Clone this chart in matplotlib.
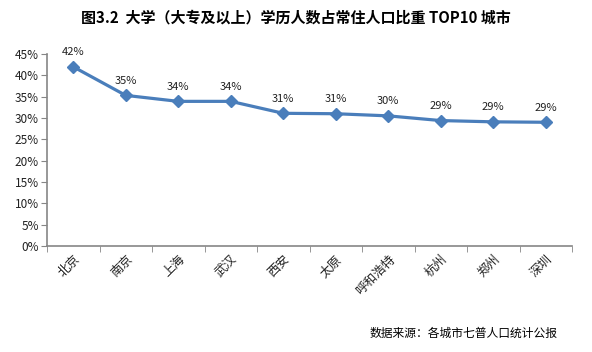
import numpy as np
import matplotlib.pyplot as plt
from matplotlib.ticker import FixedLocator, PercentFormatter

plt.rcParams['font.family'] = ['Noto Sans CJK SC', 'DejaVu Sans']

cities = ["北京", "南京", "上海", "武汉", "西安", "太原", "呼和浩特", "杭州", "郑州", "深圳"]
shares = [42.0, 35.3, 33.9, 33.9, 31.1, 31.0, 30.5, 29.4, 29.1, 29.0]
labels = ["42%", "35%", "34%", "34%", "31%", "31%", "30%", "29%", "29%", "29%"]

title = "图3.2  大学（大专及以上）学历人数占常住人口比重 TOP10 城市"
source = "数据来源：各城市七普人口统计公报"

line_color = "#4a7ebb"
axis_color = "#868686"

fig = plt.figure(figsize=(5.92, 3.52), dpi=100)
ax = fig.add_axes([47 / 592, 1 - 246 / 352, 525 / 592, 192 / 352])

x = np.arange(len(cities))
ax.plot(x, shares, color=line_color, lw=2.3, marker="D", ms=6.5,
        markerfacecolor=line_color, markeredgecolor=line_color, zorder=3)

for xi, yi, lab in zip(x, shares, labels):
    ax.annotate(lab, (xi, yi), xytext=(0, 7), textcoords="offset points",
                ha="center", va="bottom", fontsize=8, color="#222222")

ax.set_xlim(-0.5, len(cities) - 0.5)
ax.set_ylim(0, 45)
ax.set_yticks(np.arange(0, 46, 5))
ax.yaxis.set_major_formatter(PercentFormatter(decimals=0))

ax.set_xticks(x)
ax.set_xticklabels(cities, rotation=45, ha="right", va="top",
                   rotation_mode="anchor", fontsize=9, color="#222222")
ax.xaxis.set_minor_locator(FixedLocator(np.arange(-0.5, len(cities), 1.0)))
ax.tick_params(axis="x", which="major", length=0, pad=5)
ax.tick_params(axis="x", which="minor", length=4, color=axis_color, direction="out")
ax.tick_params(axis="y", length=4, color=axis_color, labelsize=8.5,
               labelcolor="#222222", direction="out", pad=2)

for side in ["top", "right"]:
    ax.spines[side].set_visible(False)
for side in ["left", "bottom"]:
    ax.spines[side].set_color(axis_color)
    ax.spines[side].set_linewidth(1.2)

fig.text(0.5, 1 - 17 / 352, title, ha="center", va="center",
         fontsize=10.8, fontweight="bold", color="black")
fig.text(558 / 592, 1 - 333 / 352, source, ha="right", va="center",
         fontsize=8.5, color="black")

fig.savefig("out.png", dpi=100)
